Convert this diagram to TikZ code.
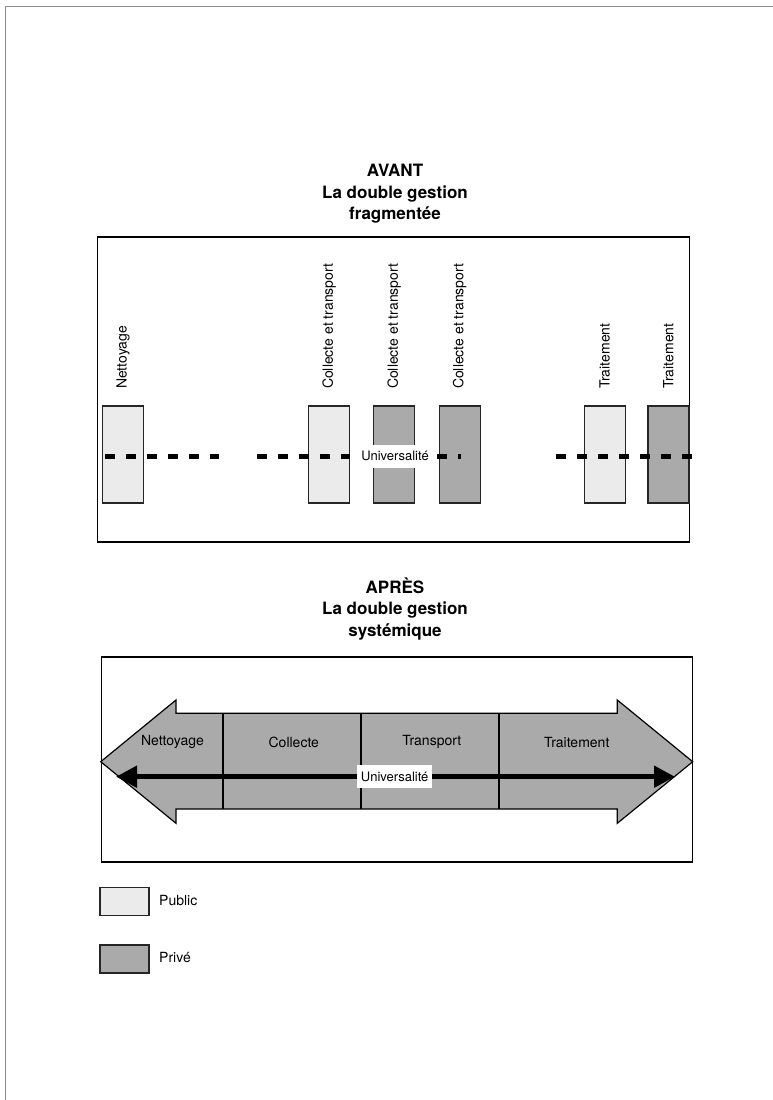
\documentclass[tikz,border=0pt]{standalone}
\usepackage{fontspec}
\setmainfont{TeX Gyre Heros}
\usetikzlibrary{arrows.meta}
\definecolor{publicfill}{HTML}{EBEBEB}
\definecolor{privefill}{HTML}{AAAAAA}
\definecolor{pageline}{HTML}{8C8C8C}
\tikzset{
  publicbox/.style={draw=black!85, line width=1.4pt, fill=publicfill, minimum width=41pt, minimum height=97pt, inner sep=0pt},
  privebox/.style={publicbox, fill=privefill},
  legendbox/.style={publicbox, minimum width=49pt, minimum height=28pt},
  vlabel/.style={rotate=90, anchor=west, inner sep=0pt, font=\fontsize{14}{16}\selectfont},
  hlabel/.style={inner sep=0pt, font=\fontsize{14}{16}\selectfont},
  titre/.style={align=center, font=\fontsize{17}{21.5}\selectfont\bfseries},
  universel/.style={fill=white, inner xsep=4pt, inner ysep=0pt, minimum height=23pt, font=\fontsize{13}{15}\selectfont},
  pointille/.style={line width=5pt, dash pattern=on 10pt off 11pt},
}
\begin{document}
\begin{tikzpicture}[x=1pt, y=-1pt]
\useasboundingbox (0,0) rectangle (773,1100);
\draw[pageline, line width=1.5pt] (5.5,1100) -- (5.5,6.5) -- (773,6.5);

\node[titre] (avant) at (395,194) {AVANT\\La double gestion\\fragmentée};
\draw[line width=1.2pt] (97.3,237) rectangle (689.3,542);

\node[publicbox] (net) at (123,454.3) {};
\node[publicbox] (col1) at (329.2,454.3) {};
\node[privebox] (col2) at (394.2,454.3) {};
\node[privebox] (col3) at (459.7,454.3) {};
\node[publicbox] (tra1) at (604.7,454.3) {};
\node[privebox] (tra2) at (668.3,454.3) {};
\foreach \b/\t in {net/Nettoyage, col1/Collecte et transport, col2/Collecte et transport, col3/Collecte et transport, tra1/Traitement, tra2/Traitement}
  \node[vlabel] (\b-lab) at ([yshift=16pt]\b.north) {\t};

\coordinate (d1) at (105,456);
\coordinate (d2) at (219,456);
\coordinate (d3) at (257,456);
\coordinate (d4) at (350,456);
\coordinate (d5) at (437,456);
\coordinate (d6) at (461,456);
\coordinate (d7) at (556,456);
\coordinate (d8) at (692,456);
\draw[pointille] (d1) -- (d2);
\draw[pointille] (d3) -- (d4);
\draw[pointille] (d5) -- (d6);
\draw[pointille] (d7) -- (d8);
\node[universel] (univ1) at (395,456) {Universalité};

\node[titre] (apres) at (395,609) {APRÈS\\La double gestion\\systémique};
\draw[line width=1.2pt] (101.7,657) rectangle (692.7,862);

\draw[fill=privefill, line width=1.2pt] (100.7,761.7) -- (176,700) -- (176,713.3) -- (617.3,713.3) -- (617.3,700) -- (692.7,761.7) -- (617.3,823.3) -- (617.3,809) -- (176,809) -- (176,823.3) -- cycle;
\foreach \x in {223,361,499.3}
  \draw[line width=2pt] (\x,713.3) -- (\x,809);
\node[hlabel] (nettoyage) at (172.5,742) {Nettoyage};
\node[hlabel] (collecte) at (293.8,742) {Collecte};
\node[hlabel] (transport) at (431.8,742) {Transport};
\node[hlabel] (traitement) at (576.7,742) {Traitement};

\coordinate (u1) at (116,776.7);
\coordinate (u2) at (675,776.7);
\draw[line width=5pt, {Triangle[length=21pt,width=21pt]}-{Triangle[length=21pt,width=21pt]}] (u1) -- (u2);
\node[universel] (univ2) at (394.7,776.5) {Universalité};

\node[legendbox] (leg1) at (124.5,901.2) {};
\node[legendbox, fill=privefill] (leg2) at (124.5,958.8) {};
\node[hlabel, anchor=west] (public) at (159,900) {Public};
\node[hlabel, anchor=west] (prive) at (159,957.5) {Privé};
\end{tikzpicture}
\end{document}
